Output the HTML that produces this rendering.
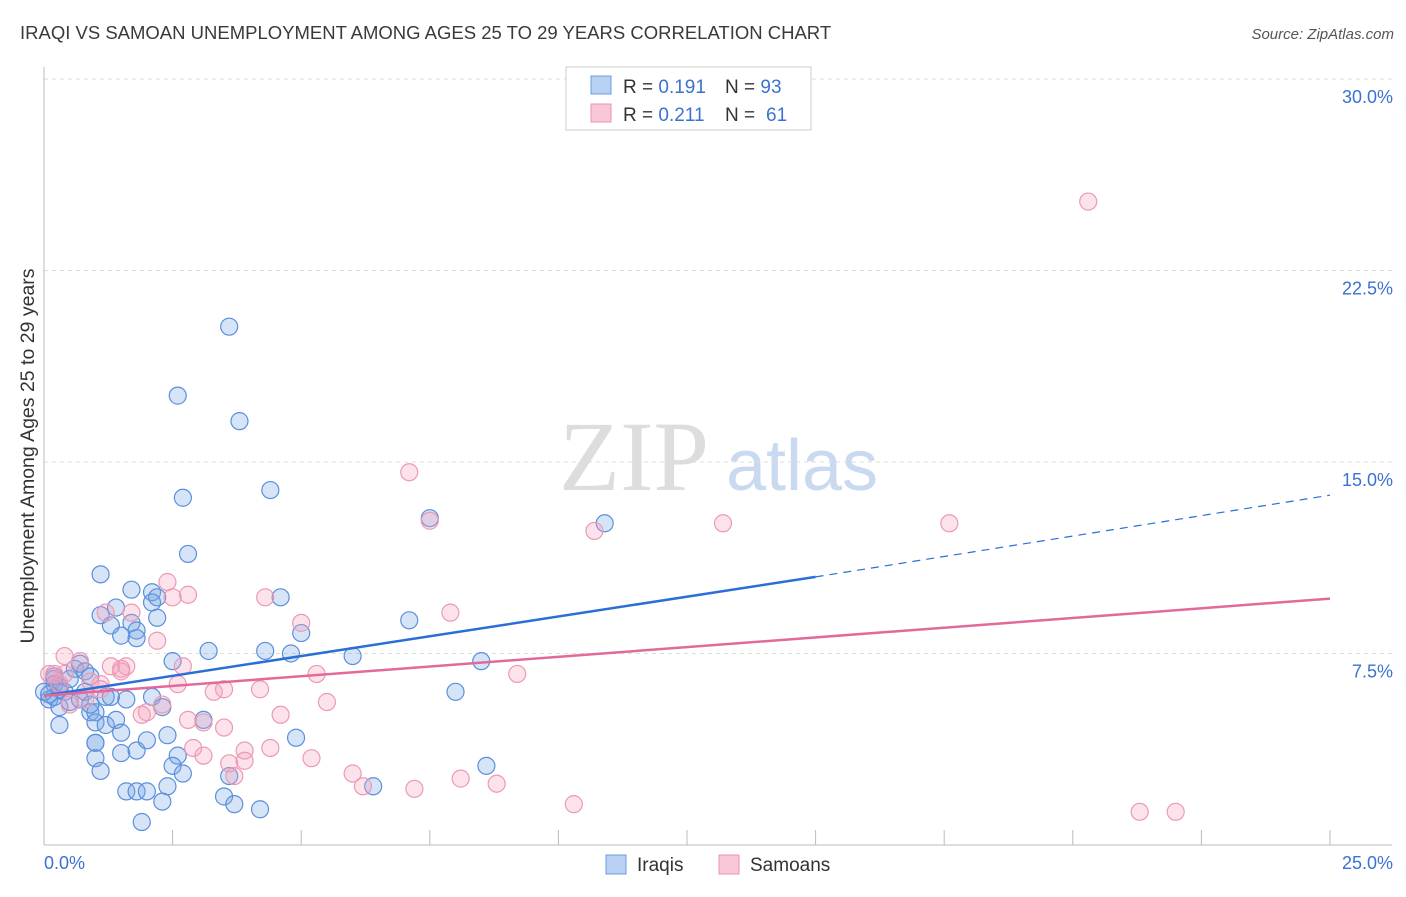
<!DOCTYPE html>
<html><head><meta charset="utf-8"><style>
body{margin:0;background:#fff;font-family:"Liberation Sans",sans-serif}
svg text{font-family:"Liberation Sans",sans-serif}
</style></head><body>
<svg id="c" width="1406" height="892">
<text x="20" y="39" font-size="18.5" fill="#3a3a3a">IRAQI VS SAMOAN UNEMPLOYMENT AMONG AGES 25 TO 29 YEARS CORRELATION CHART</text>
<text x="1394" y="39" font-size="15" fill="#555" text-anchor="end" font-style="italic">Source: ZipAtlas.com</text>
<text x="634" y="490" font-size="100" fill="#ddd" style="font-family:'Liberation Serif',serif" text-anchor="middle">ZIP</text>
<text x="802" y="490" font-size="72" fill="#c9d9ef" text-anchor="middle">atlas</text>
<text transform="translate(34,456) rotate(-90)" font-size="19.5" fill="#333" text-anchor="middle">Unemployment Among Ages 25 to 29 years</text>
<g id="grid"></g><g id="pts"></g><g id="lines"></g>
<g>
<rect x="566" y="67" width="245" height="63" fill="#fff" stroke="#ccc"/>
<rect x="591" y="76" width="20" height="18" fill="#b7d0f3" stroke="#6b9be0"/>
<rect x="591" y="104" width="20" height="18" fill="#f8c6d5" stroke="#eb94b0"/>
<text x="623" y="93" font-size="19" fill="#333">R = <tspan fill="#3b72d0">0.191</tspan></text>
<text x="725" y="93" font-size="19" fill="#333">N = <tspan fill="#3b72d0">93</tspan></text>
<text x="623" y="121" font-size="19" fill="#333">R = <tspan fill="#3b72d0">0.211</tspan></text>
<text x="725" y="121" font-size="19" fill="#333">N = <tspan x="766" fill="#3b72d0">61</tspan></text>
</g>
<g>
<rect x="606" y="855" width="20" height="19" fill="#b7d0f3" stroke="#6b9be0"/>
<text x="637" y="871" font-size="19" fill="#333">Iraqis</text>
<rect x="719" y="855" width="20" height="19" fill="#f8c6d5" stroke="#eb94b0"/>
<text x="750" y="871" font-size="19" fill="#333">Samoans</text>
</g>
</svg>
<script>
const yTicks=[7.5,15,22.5,30];
const yTickLabels=["7.5%","15.0%","22.5%","30.0%"];
const xTickLabels=["0.0%","25.0%"];
const iraqiX=[3.6,2.6,3.8,2.7,4.4,7.5,10.9,2.8,1.1,1.7,2.1,2.2,2.1,1.4,2.2,1.1,1.3,1.7,1.5,1.8,1.8,4.6,7.1,5.0,2.5,3.2,4.3,4.8,6.0,8.5,8.0,0.2,0.3,0.4,0.6,0.7,0.8,0.9,0.1,0.2,0.3,0.5,0.7,0.9,1.0,1.2,1.6,2.1,0.3,1.0,1.2,1.4,1.5,2.3,3.1,1.0,1.0,1.5,1.8,2.0,2.4,2.6,1.0,1.1,2.5,2.7,3.6,4.9,6.4,8.6,1.6,1.8,2.0,2.4,2.3,3.5,3.7,4.2,1.9,0.2,0.3,0.5,0.8,0.9,0.0,0.1,0.2,1.3];
const iraqiY=[20.3,17.6,16.6,13.6,13.9,12.8,12.6,11.4,10.6,10.0,9.9,9.7,9.5,9.3,8.9,9.0,8.6,8.7,8.2,8.4,8.1,9.7,8.8,8.3,7.2,7.6,7.6,7.5,7.4,7.2,6.0,6.5,6.1,6.0,6.9,7.1,6.8,6.6,5.7,5.8,5.4,5.6,5.7,5.2,5.2,5.8,5.7,5.8,4.7,4.8,4.7,4.9,4.4,5.4,4.9,4.0,4.0,3.6,3.7,4.1,4.3,3.5,3.4,2.9,3.1,2.8,2.7,4.2,2.3,3.1,2.1,2.1,2.1,2.3,1.7,1.9,1.6,1.4,0.9,6.3,6.2,6.5,6.0,5.5,6.0,5.9,6.6,5.8];
const samoanX=[20.3,7.1,7.5,10.7,13.2,17.6,2.4,2.8,2.5,1.7,1.2,2.2,4.3,5.0,7.9,2.7,1.3,1.5,1.6,1.5,2.6,3.3,3.5,4.2,5.3,9.2,0.4,0.7,0.2,0.4,0.1,0.3,0.9,1.1,1.1,2.0,1.9,2.8,3.1,3.5,4.6,5.5,2.9,3.1,3.9,4.4,3.6,3.9,3.7,5.2,6.0,6.2,7.2,8.1,8.8,10.3,21.3,22.0,0.8,0.5,2.3];
const samoanY=[25.2,14.6,12.7,12.3,12.6,12.6,10.3,9.8,9.7,9.1,9.1,8.0,9.7,8.7,9.1,7.0,7.0,6.9,7.0,6.8,6.3,6.0,6.1,6.1,6.7,6.7,7.4,7.2,6.7,6.7,6.7,6.3,6.4,6.3,6.1,5.2,5.1,4.9,4.8,4.6,5.1,5.6,3.8,3.5,3.7,3.8,3.2,3.3,2.7,3.4,2.8,2.3,2.2,2.6,2.4,1.6,1.3,1.3,5.7,5.5,5.5];
const iraqiTrend=[5.85,10.5,13.7];
const samoanTrend=[5.85,9.65];
const NS="http://www.w3.org/2000/svg";
const X=v=>44+v/25*1286, Y=v=>845-v/7.5*191.5;
function mk(t,a,p){const e=document.createElementNS(NS,t);for(const k in a)e.setAttribute(k,a[k]);p.appendChild(e);return e;}
const grid=document.getElementById('grid');
yTicks.forEach((t,i)=>{
 const l=mk('line',{x1:44,x2:1392,y1:Y(t),y2:Y(t),stroke:'#ddd','stroke-dasharray':'4,4'},grid);
 
 
 const tx=mk('text',{x:1393,y:Y(t)+24,'font-size':18,fill:'#3b72d0','text-anchor':'end'},grid);
 tx.textContent=yTickLabels[i];
 
 
});
mk('line',{x1:44,x2:44,y1:67,y2:845,stroke:'#bbb'},grid);
mk('line',{x1:44,x2:1392,y1:845,y2:845,stroke:'#bbb'},grid);
for(let i=1;i<=10;i++){const x=X(i*2.5);mk('line',{x1:x,x2:x,y1:830,y2:845,stroke:'#bbb'},grid);}
[[0,'start',44],[1,'end',1393]].forEach(([i,a,x])=>{const t=mk('text',{x:x,y:869,'font-size':18,fill:'#3b72d0','text-anchor':a},grid);t.textContent=xTickLabels[i];

});
const pts=document.getElementById('pts');
function dots(xs,ys,fill,stroke,name){xs.forEach((x,i)=>{const c=mk('circle',{cx:X(x),cy:Y(ys[i]),r:8.5,fill:fill,stroke:stroke,'stroke-width':1.2},pts);

});}
dots(iraqiX,iraqiY,'rgba(120,165,230,0.3)','#5b8fdc','iraqi-point');
dots(samoanX,samoanY,'rgba(245,160,190,0.3)','#ec9ab4','samoan-point');
const lines=document.getElementById('lines');
let l1=mk('line',{x1:X(0),y1:Y(iraqiTrend[0]),x2:X(15),y2:Y(iraqiTrend[1]),stroke:'#2a6fd6','stroke-width':2.5},lines);


let l2=mk('line',{x1:X(15),y1:Y(iraqiTrend[1]),x2:X(25),y2:Y(iraqiTrend[2]),stroke:'#2a6fd6','stroke-width':1.2,'stroke-dasharray':'8,6'},lines);


let l3=mk('line',{x1:X(0),y1:Y(samoanTrend[0]),x2:X(25),y2:Y(samoanTrend[1]),stroke:'#e2699a','stroke-width':2.5},lines);


</script>
</body></html>
